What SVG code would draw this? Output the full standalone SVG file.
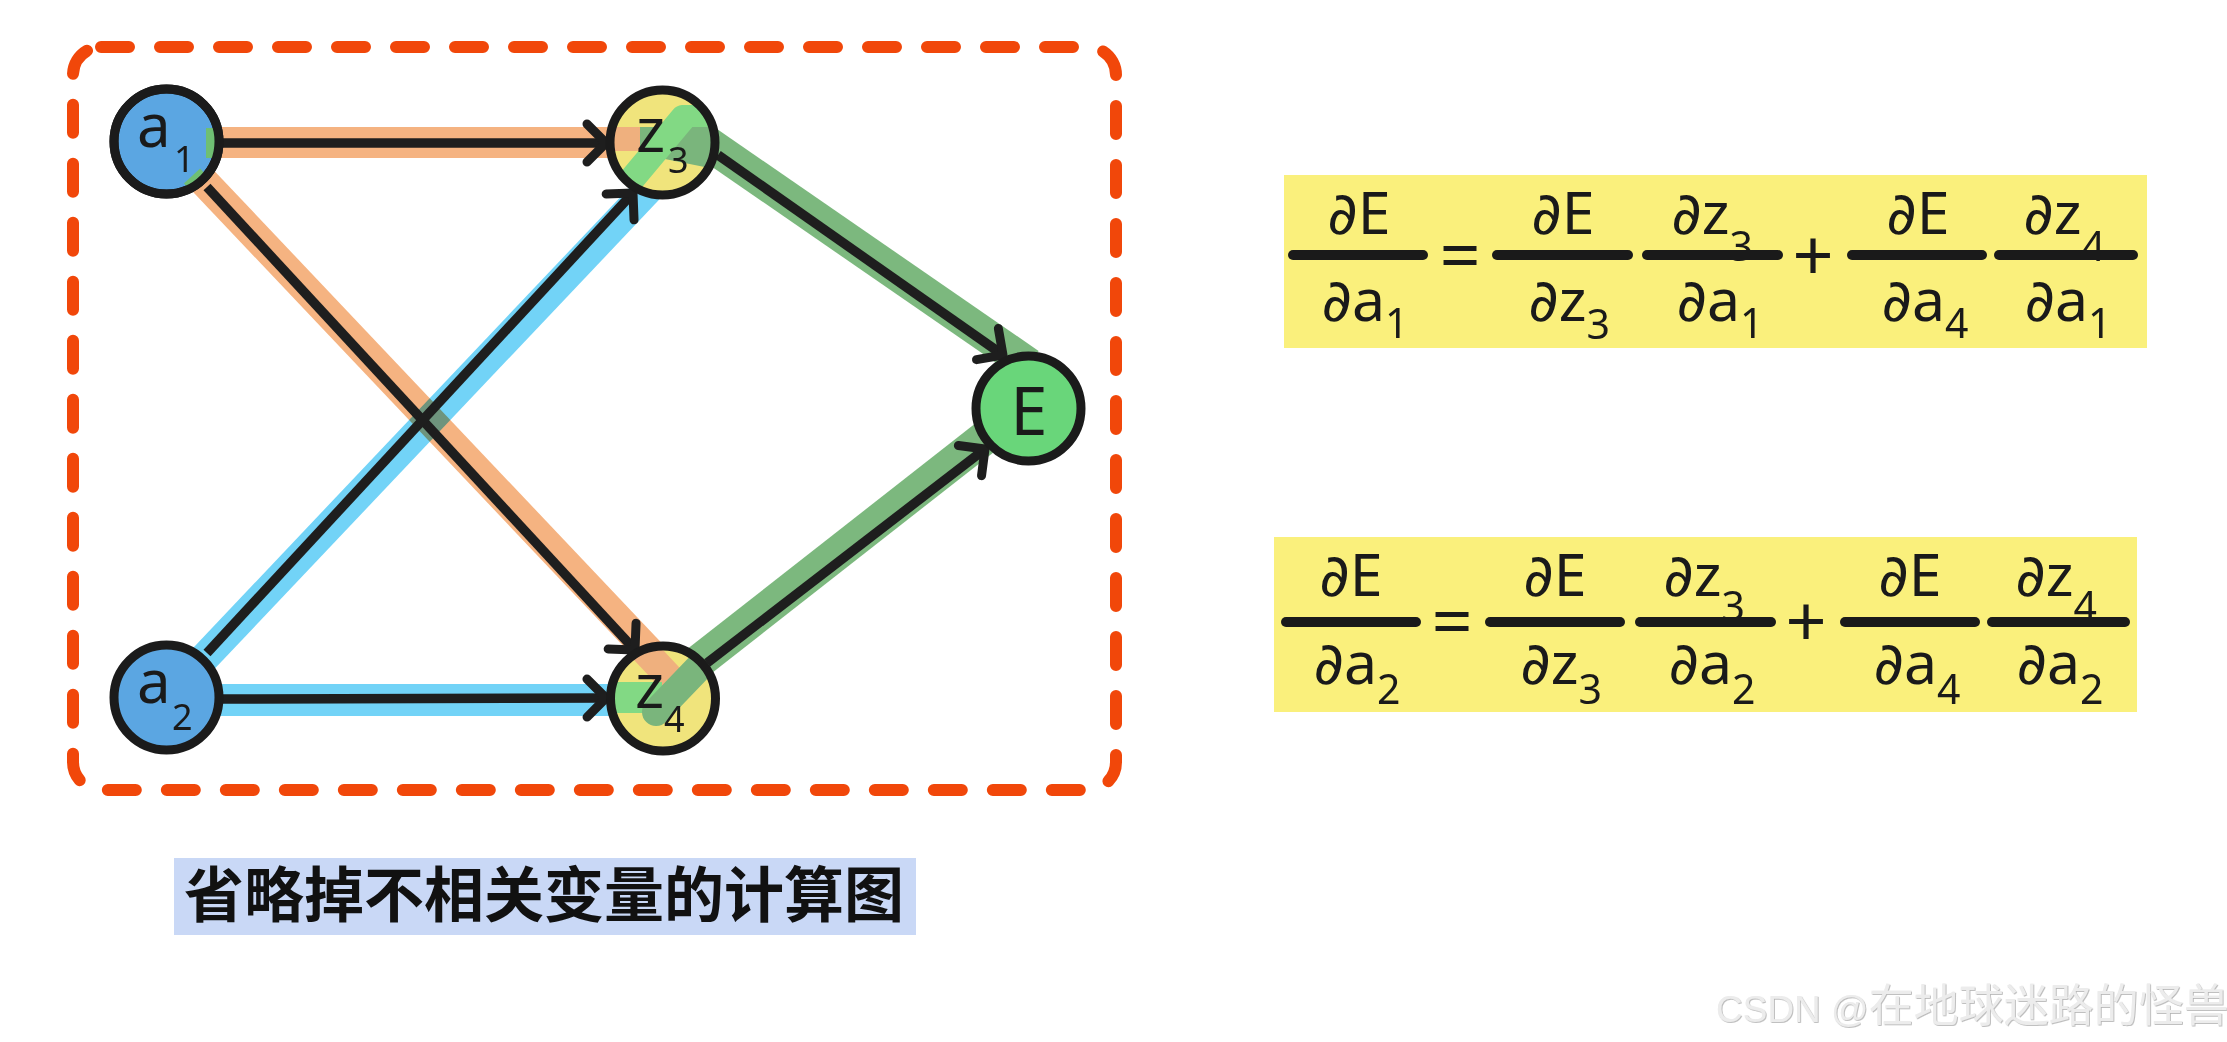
<svg xmlns="http://www.w3.org/2000/svg" width="2227" height="1042" viewBox="0 0 2227 1042">
<style>
.node{stroke:#1b1b1b;stroke-width:9}
.lbl{font-family:"Noto Sans","Open Sans","DejaVu Sans",sans-serif;fill:#1a1a1a}
.halo{fill:none;mix-blend-mode:multiply}
.edge{fill:none;stroke:#1e1e1e;stroke-width:9.5;marker-end:url(#arr)}
.m{font-family:"Noto Sans","DejaVu Sans",sans-serif;font-size:59px;fill:#1a1a1a;text-anchor:middle}
.s{font-size:41px}
.op{font-family:"Noto Sans","DejaVu Sans",sans-serif;font-size:72px;fill:#1a1a1a;text-anchor:middle}
.bar{stroke:#1a1a1a;stroke-width:10;stroke-linecap:round}
</style>
<defs>
<marker id="arr" markerUnits="userSpaceOnUse" viewBox="-30 -30 40 60" markerWidth="40" markerHeight="60" refX="0" refY="0" orient="auto" overflow="visible">
<path d="M -19 -19 L 0 0 L -19 19" fill="none" stroke="#1e1e1e" stroke-width="9" stroke-linecap="round" stroke-linejoin="round"/>
</marker>
<clipPath id="cz3"><circle cx="662.5" cy="142.5" r="49"/></clipPath>
<clipPath id="cz4"><circle cx="663" cy="698.5" r="49"/></clipPath>
<clipPath id="ca1"><circle cx="166.5" cy="141.5" r="49"/></clipPath>
<filter id="wm" x="-5%" y="-20%" width="110%" height="140%">
<feDropShadow dx="0.8" dy="0.8" stdDeviation="0.4" flood-color="#a8a8a8" flood-opacity="0.9"/>
</filter>
</defs>
<rect width="2227" height="1042" fill="#ffffff"/>

<g id="frame">
<rect x="73" y="47" width="1043" height="743" rx="28" fill="none" stroke="#f1470a" stroke-width="12" stroke-dasharray="28 31" stroke-linecap="round"/>
</g>

<g id="connectors">
<g id="halos">
<line class="halo" x1="166" y1="142.5" x2="664" y2="142.5" stroke="#f5b381" stroke-width="31"/>
<line class="halo" x1="190" y1="167" x2="660" y2="663" stroke="#f5b381" stroke-width="30"/>
<line class="halo" x1="190" y1="673" x2="660" y2="177" stroke="#72d3f7" stroke-width="30"/>
<line class="halo" x1="166" y1="700" x2="664" y2="700" stroke="#72d3f7" stroke-width="32"/>
<line class="halo" x1="664" y1="113" x2="1029" y2="365" stroke="#7cb87e" stroke-width="34"/>
<line class="halo" x1="660" y1="692" x2="1029" y2="403" stroke="#7cb87e" stroke-width="34"/>
</g>
<line class="edge" x1="220" y1="143" x2="606" y2="143"/>
<line class="edge" x1="207" y1="187" x2="635" y2="650"/>
<line class="edge" x1="207" y1="653" x2="633" y2="193"/>
<line class="edge" x1="220" y1="699" x2="606" y2="698"/>
<line class="edge" x1="718" y1="155" x2="1003" y2="355"/>
<line class="edge" x1="707" y1="663" x2="985" y2="449"/>
</g>

<g id="node-a1">
<circle class="node" cx="166.5" cy="141.5" r="52.5" fill="#5ba6e2"/>
<g clip-path="url(#ca1)">
<rect x="206" y="128" width="26" height="30" fill="#6fbf73"/>
<line x1="192" y1="176" x2="216" y2="202" stroke="#6fbf73" stroke-width="22"/>
</g>
<circle cx="166.5" cy="141.5" r="52.5" fill="none" stroke="#1b1b1b" stroke-width="9"/>
<text class="lbl" x="137" y="147" font-size="60">a<tspan x="174" y="172" font-size="36">1</tspan></text>
</g>

<g id="node-a2">
<circle class="node" cx="166.5" cy="697.5" r="52.5" fill="#5ba6e2"/>
<text class="lbl" x="137" y="703" font-size="60">a<tspan x="172" y="730" font-size="36">2</tspan></text>
</g>

<g id="node-z3">
<circle cx="662.5" cy="142.5" r="52.5" fill="#f0e47c"/>
<g clip-path="url(#cz3)">
<rect x="600" y="127" width="120" height="24" fill="#efb07e"/>
<polygon points="640,127 720,127 720,170 655,157 640,151" fill="#7ab57c"/>
<line x1="606" y1="210" x2="683" y2="118" stroke="#82d984" stroke-width="26" stroke-linecap="round"/>
<rect x="683" y="105" width="40" height="22" fill="#82d984"/>
</g>
<circle class="node" cx="662.5" cy="142.5" r="52.5" fill="none"/>
<text class="lbl" x="636" y="152" font-size="62">z<tspan x="668" y="173" font-size="36">3</tspan></text>
</g>

<g id="node-z4">
<circle cx="663" cy="698.5" r="52.5" fill="#f0e47c"/>
<g clip-path="url(#cz4)">
<line x1="625" y1="630" x2="672" y2="680" stroke="#efb07e" stroke-width="28"/>
<rect x="600" y="682" width="62" height="31" fill="#82d984"/>
<line x1="656" y1="712" x2="728" y2="637" stroke="#7ab57c" stroke-width="28" stroke-linecap="round"/>
</g>
<circle class="node" cx="663" cy="698.5" r="52.5" fill="none"/>
<text class="lbl" x="635" y="708" font-size="62">z<tspan x="664" y="732" font-size="36">4</tspan></text>
</g>

<g id="node-E">
<circle class="node" cx="1028.5" cy="408.5" r="52.5" fill="#69d67a"/>
<text class="lbl" x="1029" y="435" font-size="67" text-anchor="middle">E</text>
</g>

<g id="eq1">
<rect x="1284" y="175" width="863" height="173" fill="#faf07c"/>
<text class="m" x="1359" y="234">∂E</text>
<line class="bar" x1="1293" y1="255" x2="1423" y2="255"/>
<text class="m" x="1365" y="321">∂a<tspan class="s" dy="17">1</tspan></text>
<text class="op" x="1460" y="281">=</text>
<text class="m" x="1563" y="234">∂E</text>
<line class="bar" x1="1497" y1="255" x2="1628" y2="255"/>
<text class="m" x="1569" y="321">∂z<tspan class="s" dy="18">3</tspan></text>
<text class="m" x="1712" y="234">∂z<tspan class="s" dy="27">3</tspan></text>
<line class="bar" x1="1647" y1="255" x2="1778" y2="255"/>
<text class="m" x="1720" y="321">∂a<tspan class="s" dy="17">1</tspan></text>
<text class="op" x="1813" y="281">+</text>
<text class="m" x="1918" y="234">∂E</text>
<line class="bar" x1="1852" y1="255" x2="1982" y2="255"/>
<text class="m" x="1925" y="321">∂a<tspan class="s" dy="17">4</tspan></text>
<text class="m" x="2064" y="234">∂z<tspan class="s" dy="27">4</tspan></text>
<line class="bar" x1="1999" y1="255" x2="2133" y2="255"/>
<text class="m" x="2068" y="321">∂a<tspan class="s" dy="17">1</tspan></text>
</g>

<g id="eq2">
<rect x="1274" y="537" width="863" height="175" fill="#faf07c"/>
<text class="m" x="1351" y="596">∂E</text>
<line class="bar" x1="1286" y1="622" x2="1416" y2="622"/>
<text class="m" x="1357" y="684">∂a<tspan class="s" dy="20">2</tspan></text>
<text class="op" x="1452" y="647">=</text>
<text class="m" x="1555" y="596">∂E</text>
<line class="bar" x1="1490" y1="622" x2="1620" y2="622"/>
<text class="m" x="1561" y="684">∂z<tspan class="s" dy="20">3</tspan></text>
<text class="m" x="1704" y="596">∂z<tspan class="s" dy="25">3</tspan></text>
<line class="bar" x1="1640" y1="622" x2="1771" y2="622"/>
<text class="m" x="1712" y="684">∂a<tspan class="s" dy="20">2</tspan></text>
<text class="op" x="1806" y="647">+</text>
<text class="m" x="1910" y="596">∂E</text>
<line class="bar" x1="1845" y1="622" x2="1975" y2="622"/>
<text class="m" x="1917" y="684">∂a<tspan class="s" dy="20">4</tspan></text>
<text class="m" x="2056" y="596">∂z<tspan class="s" dy="25">4</tspan></text>
<line class="bar" x1="1992" y1="622" x2="2125" y2="622"/>
<text class="m" x="2060" y="684">∂a<tspan class="s" dy="20">2</tspan></text>
</g>

<g id="caption">
<rect x="174" y="858" width="742" height="77" fill="#c9d8f6"/>
<text x="184" y="917" font-family="'Noto Sans CJK SC','Noto Sans CJK JP',sans-serif" font-size="60" font-weight="bold" fill="#111111">省略掉不相关变量的计算图</text>
</g>

<g id="watermark">
<text x="1716" y="1022" font-family="'Liberation Sans','Noto Sans CJK SC',sans-serif" font-size="37" fill="#ececec" filter="url(#wm)">CSDN @<tspan font-family="'Noto Sans CJK SC',sans-serif" font-size="45">在地球迷路的怪兽</tspan></text>
</g>
</svg>
